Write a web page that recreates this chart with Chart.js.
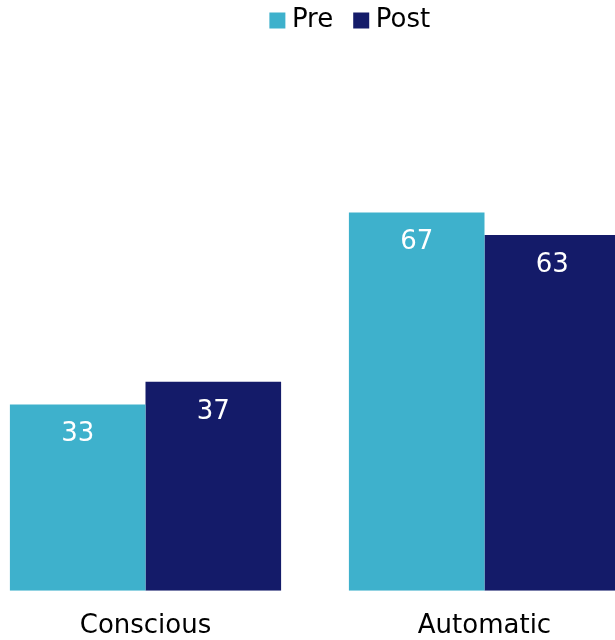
<!DOCTYPE html>
<html>

<head>
    <title>Conscious vs Automatic</title>
    <script src="https://cdn.jsdelivr.net/npm/chart.js"></script>
    <style>
        body { margin: 0; background: #fff; overflow: hidden; }
        .wrap { position: absolute; left: -24px; top: 0; width: 754px; height: 662px; }
    </style>
</head>

<body>
    <div class="wrap">
        <canvas id="pre-post-chart" width="754" height="662"></canvas>
    </div>

    <script>
        const categories = ['Conscious', 'Automatic'];
        const preValues = [33, 67];
        const postValues = [37, 63];

        const FONT = 'DejaVu Sans';

        // writes each bar's value just inside its top edge
        const valueLabels = {
            id: 'valueLabels',
            afterDatasetsDraw(chart) {
                const ctx = chart.ctx;
                ctx.save();
                ctx.font = '26px "' + FONT + '"';
                ctx.fillStyle = '#ffffff';
                ctx.textAlign = 'center';
                ctx.textBaseline = 'middle';
                chart.data.datasets.forEach((ds, i) => {
                    chart.getDatasetMeta(i).data.forEach((bar, j) => {
                        ctx.fillText(ds.data[j], bar.x, bar.y + 30);
                    });
                });
                ctx.restore();
            }
        };

        const ctx = document.getElementById('pre-post-chart').getContext('2d');
        new Chart(ctx, {
            type: 'bar',
            data: {
                labels: categories,
                datasets: [
                    { label: 'Pre', data: preValues, backgroundColor: '#3eb1cc' },
                    { label: 'Post', data: postValues, backgroundColor: '#141b69' }
                ]
            },
            options: {
                responsive: false,
                animation: false,
                categoryPercentage: 0.8,
                barPercentage: 1.0,
                layout: { padding: { top: -19 } },
                plugins: {
                    legend: {
                        position: 'top',
                        labels: {
                            // square markers, tight to their text
                            usePointStyle: true,
                            pointStyle: 'rect',
                            boxWidth: 3,
                            boxHeight: 16,
                            padding: 26.5,
                            color: '#000',
                            font: { family: FONT, size: 26 }
                        }
                    },
                    tooltip: { enabled: false }
                },
                scales: {
                    x: {
                        grid: { display: false, drawTicks: false },
                        border: { display: false },
                        ticks: {
                            padding: 20,
                            color: '#000',
                            font: { family: FONT, size: 26 }
                        }
                    },
                    y: {
                        position: 'right',
                        min: 0,
                        max: 96.9,
                        grid: { display: false },
                        border: { display: false },
                        ticks: { display: false },
                        // keeps the plot area off the right side
                        afterFit(scale) { scale.width = 76; }
                    }
                }
            },
            plugins: [valueLabels]
        });
    </script>
</body>

</html>
